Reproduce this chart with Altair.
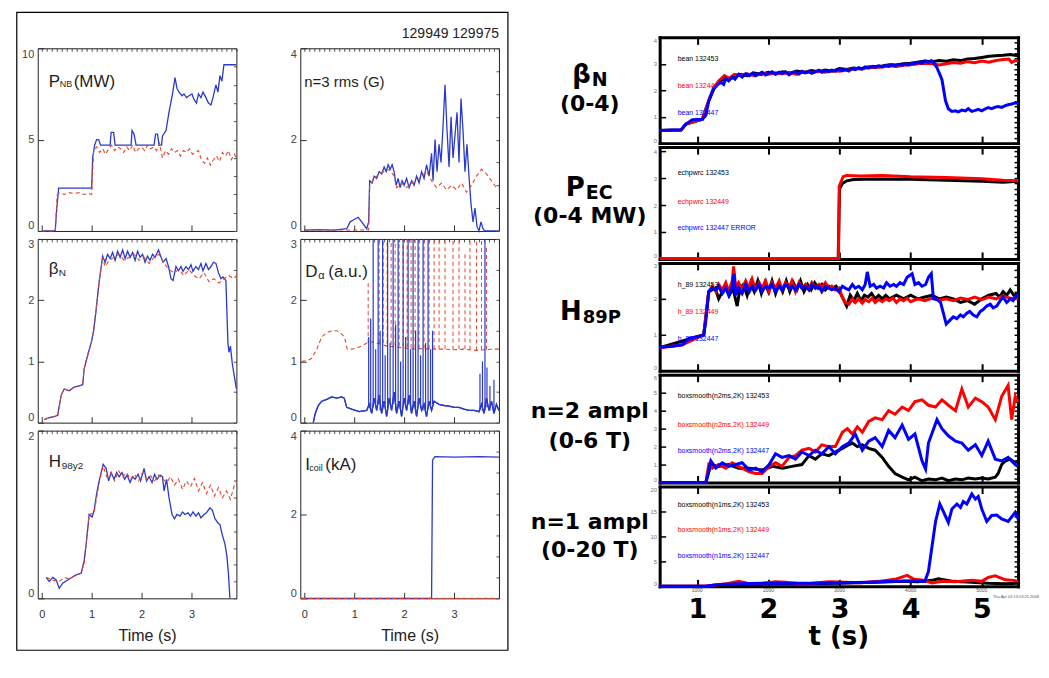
import altair as alt
import pandas as pd

LF = "Liberation Sans, Arial, sans-serif"
BF = "DejaVu Sans, Verdana, sans-serif"
LBLUE = "#2a3acb"
LRED = "#e6452c"

# ---------------- left box data (time s, value) ----------------
PNB_BLUE = [(0.0,0),(0.27,0),(0.30,1.2),(0.34,2.35),(1.0,2.35),(1.02,4.0),(1.06,4.7),(1.10,5.0),(1.14,5.0),(1.18,4.7),
            (1.37,4.7),(1.39,5.4),(1.44,5.4),(1.47,4.7),(1.79,4.7),(1.81,5.5),(1.85,5.3),(1.89,4.7),(2.25,4.7),(2.28,5.3),
            (2.32,5.3),(2.35,4.7),(2.40,4.7),(2.42,5.2),(2.49,5.5),(2.55,6.5),(2.62,7.5),(2.67,8.4),(2.71,7.8),(2.75,7.6),
            (2.81,7.4),(2.85,7.5),(2.90,7.3),(2.95,7.4),(3.01,7.5),(3.05,7.2),(3.10,7.0),(3.14,7.5),(3.19,7.3),(3.23,7.6),
            (3.29,7.3),(3.34,7.0),(3.39,6.9),(3.43,7.3),(3.49,8.0),(3.53,7.6),(3.57,8.5),(3.61,8.2),(3.65,9.1),(3.90,9.1)]
PNB_RED = [(0.0,0),(0.27,0),(0.31,2.0),(0.36,2.1),(0.45,2.0),(0.55,2.1),(0.65,2.05),(0.75,2.1),(0.85,2.0),(0.95,2.05),
           (1.0,2.0),(1.04,4.4),(1.10,4.6),(1.16,4.3),(1.22,4.5),(1.28,4.2),(1.34,4.5),(1.40,4.7),(1.46,4.4),(1.52,4.6),
           (1.58,4.5),(1.64,4.3),(1.70,4.6),(1.76,4.4),(1.82,4.7),(1.88,4.3),(1.94,4.5),(2.00,4.6),(2.06,4.4),(2.12,4.7),
           (2.18,4.5),(2.24,4.6),(2.30,4.4),(2.36,4.8),(2.42,4.0),(2.48,4.4),(2.54,4.2),(2.60,4.5),(2.66,4.3),(2.72,4.4),
           (2.78,4.1),(2.84,4.4),(2.90,4.3),(2.96,4.5),(3.02,4.2),(3.08,4.3),(3.14,4.4),(3.20,3.9),(3.26,3.7),(3.32,4.0),
           (3.38,3.6),(3.44,3.9),(3.50,4.1),(3.56,3.8),(3.62,4.3),(3.68,4.1),(3.74,4.4),(3.80,3.9),(3.86,4.2),(3.90,4.0)]

NRMS_BLUE = [(0.0,0.02),(0.3,0.03),(0.6,0.02),(0.85,0.05),(0.92,0.2),(1.0,0.25),(1.08,0.3),(1.15,0.2),(1.25,0.05),(1.29,0.2),
             (1.31,1.1),(1.36,1.05),(1.40,1.2),(1.45,1.15),(1.50,1.3),(1.55,1.25),(1.60,1.4),(1.64,1.3),(1.68,1.45),(1.72,1.35),
             (1.76,1.45),(1.80,1.3),(1.84,1.0),(1.88,1.15),(1.92,0.95),(1.96,1.1),(2.00,1.0),(2.05,1.15),(2.10,0.95),(2.15,1.1),
             (2.20,1.0),(2.25,1.2),(2.30,1.05),(2.35,1.3),(2.40,1.15),(2.45,1.45),(2.50,1.2),(2.55,1.7),(2.58,1.1),(2.62,2.0),
             (2.66,1.3),(2.70,1.9),(2.74,1.5),(2.78,2.3),(2.82,3.2),(2.86,2.2),(2.90,1.4),(2.94,2.5),(2.98,1.6),(3.02,2.1),
             (3.06,2.6),(3.10,1.5),(3.14,2.9),(3.18,2.2),(3.22,1.3),(3.26,1.9),(3.30,1.2),(3.34,0.6),(3.38,0.2),(3.42,0.5),
             (3.46,0.1),(3.50,0.0),(3.54,0.2),(3.58,0.05),(3.62,0.0),(3.90,0.0)]
NRMS_RED = [(0.0,0.02),(1.29,0.02),(1.31,1.0),(1.40,1.15),(1.50,1.25),(1.60,1.3),(1.70,1.35),(1.80,1.2),(1.85,0.95),(1.95,1.05),
            (2.05,0.95),(2.15,1.05),(2.25,1.1),(2.35,1.2),(2.45,1.3),(2.55,1.1),(2.65,0.95),(2.75,1.05),(2.85,0.9),(2.95,1.0),
            (3.05,0.9),(3.15,1.05),(3.25,0.85),(3.35,1.0),(3.45,1.2),(3.55,1.35),(3.65,1.25),(3.75,1.1),(3.85,0.95),(3.90,1.0)]

BETA_BLUE = [(0.05,0.05),(0.15,0.08),(0.25,0.1),(0.32,0.12),(0.39,0.45),(0.45,0.55),(0.55,0.52),(0.65,0.58),(0.75,0.6),(0.82,0.62),
             (0.85,0.88),(0.92,1.1),(0.99,1.3),(1.04,1.5),(1.09,1.85),(1.15,2.3),(1.22,2.72),(1.27,2.62),(1.32,2.75),(1.37,2.68),
             (1.42,2.78),(1.47,2.65),(1.52,2.8),(1.57,2.7),(1.62,2.82),(1.67,2.68),(1.72,2.8),(1.77,2.7),(1.82,2.78),(1.87,2.65),
             (1.92,2.8),(1.97,2.7),(2.02,2.75),(2.07,2.62),(2.12,2.72),(2.17,2.65),(2.22,2.75),(2.27,2.7),(2.34,2.82),(2.39,2.7),
             (2.43,2.62),(2.49,2.68),(2.54,2.55),(2.59,2.35),(2.63,2.32),(2.69,2.55),(2.74,2.48),(2.79,2.55),(2.83,2.47),(2.89,2.55),
             (2.94,2.5),(2.99,2.58),(3.03,2.47),(3.09,2.55),(3.14,2.5),(3.19,2.6),(3.23,2.48),(3.29,2.6),(3.34,2.5),(3.39,2.55),
             (3.44,2.62),(3.49,2.6),(3.54,2.45),(3.59,2.35),(3.63,2.38),(3.69,2.32),(3.73,1.3),(3.75,1.15),(3.78,1.25),(3.82,0.95),
             (3.86,0.75),(3.90,0.55)]
BETA_RED = [(0.05,0.05),(0.15,0.08),(0.25,0.1),(0.32,0.12),(0.39,0.45),(0.45,0.55),(0.55,0.52),(0.65,0.58),(0.75,0.6),(0.82,0.62),
            (0.85,0.88),(0.92,1.1),(0.99,1.3),(1.04,1.5),(1.09,1.85),(1.15,2.3),(1.22,2.7),(1.27,2.55),(1.35,2.65),(1.45,2.7),
            (1.55,2.75),(1.65,2.65),(1.75,2.7),(1.85,2.75),(1.95,2.65),(2.05,2.7),(2.15,2.6),(2.25,2.7),(2.35,2.75),(2.45,2.6),
            (2.55,2.5),(2.65,2.45),(2.75,2.5),(2.85,2.4),(2.95,2.5),(3.05,2.4),(3.15,2.35),(3.25,2.45),(3.35,2.3),(3.45,2.35),
            (3.55,2.28),(3.65,2.35),(3.75,2.4),(3.85,2.35),(3.90,2.4)]

DA_RED = [(-0.05,1.0),(0.08,1.02),(0.15,1.05),(0.25,1.2),(0.35,1.4),(0.45,1.47),(0.55,1.5),(0.65,1.5),(0.72,1.47),(0.78,1.42),
          (0.82,1.35),(0.86,1.2),(0.95,1.2),(1.05,1.22),(1.15,1.25),(1.25,1.3),(1.35,1.32),(1.45,1.3),(1.55,1.28),(1.65,1.25),
          (1.80,1.24),(2.00,1.22),(2.20,1.2),(2.40,1.21),(2.60,1.2),(2.80,1.2),(3.00,1.19),(3.20,1.2),(3.40,1.18),(3.60,1.19),
          (3.80,1.2),(3.90,1.2)]
DA_RED_SPIKE_T = [1.28,1.50,1.58,1.66,1.74,1.82,1.90,1.98,2.06,2.14,2.22,2.30,2.40,2.50,2.60,2.70,2.82,2.98,3.10,3.22,3.32,3.45,3.55,3.65]
DA_RED_SPIKE_B = [1.3,1.3,1.3,1.28,1.27,1.26,1.25,1.24,1.23,1.22,1.22,1.21,1.21,1.2,1.2,1.2,1.2,1.19,1.2,1.2,1.19,1.18,1.19,1.19]
DA_RED_SPIKE_P = [2.3,3.0,3.0,3.0,3.0,3.0,3.0,3.0,3.0,3.0,3.0,3.0,3.0,3.0,3.0,3.0,3.0,3.0,3.0,2.8,3.0,3.0,3.0,2.9]
DA_BLUE = [(0.18,0.0),(0.22,0.15),(0.28,0.28),(0.35,0.35),(0.45,0.38),(0.55,0.42),(0.65,0.4),(0.75,0.42),(0.80,0.4),(0.85,0.25),
           (0.95,0.22),(1.10,0.18),(1.25,0.2),(1.30,0.3),(1.35,0.15),(1.40,0.4),(1.45,0.2),(1.50,0.45),(1.55,0.15),(1.60,0.35),
           (1.65,0.1),(1.70,0.4),(1.75,0.2),(1.80,0.5),(1.85,0.15),(1.90,0.35),(1.95,0.1),(2.00,0.4),(2.05,0.2),(2.10,0.45),
           (2.15,0.15),(2.20,0.35),(2.25,0.1),(2.30,0.4),(2.35,0.2),(2.40,0.3),(2.45,0.1),(2.50,0.35),(2.55,0.2),(2.60,0.35),
           (2.70,0.3),(2.80,0.28),(2.90,0.27),(3.00,0.25),(3.10,0.25),(3.20,0.22),(3.30,0.2),(3.40,0.2),(3.50,0.18),(3.55,0.3),
           (3.60,0.15),(3.65,0.4),(3.70,0.2),(3.75,0.35),(3.80,0.15),(3.85,0.3),(3.90,0.2)]
DA_BLUE_SPIKE_T = [1.29,1.33,1.38,1.43,1.48,1.52,1.57,1.62,1.67,1.72,1.78,1.83,1.88,1.93,1.98,2.03,2.08,2.13,2.18,2.23,2.28,2.33,2.38,2.43,2.48,2.53,2.57,3.52,3.57,3.62,3.66,3.72,3.80]
DA_BLUE_SPIKE_B = [0.25,0.2,0.25,0.3,0.3,0.2,0.25,0.3,0.2,0.3,0.3,0.2,0.25,0.2,0.3,0.25,0.3,0.2,0.25,0.2,0.3,0.25,0.2,0.2,0.25,0.25,0.3,0.2,0.2,0.2,0.25,0.2,0.2]
DA_BLUE_SPIKE_P = [1.4,1.7,3.0,1.2,3.0,1.5,3.0,1.1,3.0,1.3,3.0,1.6,3.0,1.0,3.0,1.4,3.0,1.2,3.0,1.5,3.0,1.1,3.0,1.3,3.0,1.2,1.5,0.8,1.0,3.0,0.9,0.6,0.7]

H98_BLUE = [(0.09,0.25),(0.15,0.2),(0.22,0.25),(0.29,0.22),(0.35,0.12),(0.42,0.18),(0.55,0.23),(0.69,0.28),(0.79,0.3),(0.85,0.45),
            (0.90,0.7),(0.95,1.0),(1.01,0.97),(1.05,1.05),(1.10,1.25),(1.15,1.4),(1.23,1.6),(1.29,1.55),(1.34,1.4),(1.39,1.5),
            (1.45,1.42),(1.50,1.5),(1.55,1.45),(1.61,1.5),(1.66,1.42),(1.71,1.47),(1.77,1.38),(1.82,1.45),(1.87,1.42),(1.93,1.48),
            (1.98,1.4),(2.05,1.55),(2.10,1.4),(2.15,1.45),(2.21,1.38),(2.26,1.48),(2.31,1.42),(2.37,1.47),(2.42,1.45),(2.45,1.28),
            (2.50,1.42),(2.55,1.2),(2.61,1.0),(2.66,0.95),(2.71,1.0),(2.77,0.98),(2.82,1.03),(2.87,1.0),(2.93,1.02),(2.98,0.98),
            (3.03,1.03),(3.09,0.98),(3.14,1.02),(3.19,0.96),(3.25,1.0),(3.30,1.02),(3.37,1.08),(3.42,1.05),(3.47,0.95),(3.53,0.9),
            (3.57,0.88),(3.62,0.75),(3.67,0.65),(3.71,0.5),(3.74,0.3),(3.77,0.0)]
H98_RED = [(0.09,0.25),(0.20,0.22),(0.35,0.2),(0.45,0.25),(0.55,0.23),(0.69,0.28),(0.79,0.3),(0.85,0.42),(0.95,1.0),(1.05,1.02),
           (1.15,1.38),(1.23,1.58),(1.30,1.45),(1.38,1.5),(1.46,1.4),(1.54,1.52),(1.62,1.45),(1.70,1.5),(1.78,1.42),(1.86,1.48),
           (1.94,1.4),(2.02,1.5),(2.10,1.42),(2.18,1.46),(2.26,1.4),(2.34,1.47),(2.42,1.43),(2.50,1.38),(2.58,1.45),(2.66,1.35),
           (2.74,1.42),(2.82,1.3),(2.90,1.4),(2.98,1.33),(3.06,1.43),(3.14,1.28),(3.22,1.38),(3.30,1.25),(3.38,1.35),(3.46,1.22),
           (3.54,1.32),(3.62,1.2),(3.70,1.28),(3.78,1.18),(3.86,1.35),(3.90,1.38)]

ICOIL_BLUE = [(-0.05,0.0),(2.55,0.0),(2.57,3.3),(2.62,3.38),(3.0,3.37),(3.5,3.38),(3.90,3.37)]
ICOIL_RED = [(-0.05,0.0),(3.90,0.0)]

# ---------------- right panel data (time s, value) ----------------
BN_BLACK = [(0.47,0.48),(0.77,0.5),(0.84,0.72),(1.07,0.9),(1.16,1.6),(1.23,2.05),(1.30,2.3),(1.38,2.45),(1.45,2.4),(1.52,2.55),
            (1.60,2.6),(1.70,2.55),(1.80,2.65),(1.90,2.6),(2.00,2.68),(2.10,2.62),(2.20,2.7),(2.30,2.64),(2.40,2.72),(2.50,2.66),
            (2.60,2.74),(2.70,2.7),(2.80,2.76),(2.90,2.72),(3.00,2.82),(3.10,2.78),(3.20,2.84),(3.30,2.8),(3.40,2.88),(3.50,2.9),
            (3.60,2.92),(3.70,2.96),(3.80,2.95),(3.90,3.0),(4.00,3.02),(4.10,3.06),(4.20,3.1),(4.30,3.08),(4.40,3.12),(4.50,3.1),
            (4.60,3.15),(4.70,3.12),(4.80,3.18),(4.90,3.2),(5.00,3.24),(5.10,3.28),(5.20,3.3),(5.30,3.32),(5.40,3.35),(5.51,3.3)]
BN_RED = [(0.47,0.48),(0.77,0.5),(0.84,0.72),(1.07,0.9),(1.16,1.6),(1.23,2.1),(1.30,2.35),(1.38,2.55),(1.45,2.45),(1.52,2.6),
          (1.60,2.55),(1.70,2.62),(1.80,2.55),(1.90,2.65),(2.00,2.6),(2.10,2.66),(2.20,2.62),(2.30,2.68),(2.40,2.6),(2.50,2.7),
          (2.60,2.66),(2.70,2.72),(2.80,2.68),(2.90,2.74),(3.00,2.72),(3.10,2.76),(3.20,2.8),(3.30,2.82),(3.40,2.85),(3.50,2.86),
          (3.60,2.88),(3.70,2.92),(3.80,2.9),(3.90,2.94),(4.00,2.96),(4.10,3.0),(4.20,3.02),(4.30,3.0),(4.40,2.95),(4.50,3.0),
          (4.60,3.05),(4.70,3.02),(4.80,3.08),(4.90,3.04),(5.00,3.1),(5.10,3.06),(5.20,3.12),(5.30,3.16),(5.38,3.18),(5.42,3.05),
          (5.47,3.12),(5.51,3.1)]
BN_BLUE = [(0.47,0.48),(0.65,0.5),(0.77,0.5),(0.84,0.72),(0.93,0.88),(1.07,0.9),(1.12,1.05),(1.16,1.6),(1.23,2.05),(1.28,2.2),
           (1.33,2.3),(1.37,2.22),(1.40,2.45),(1.44,2.35),(1.49,2.5),(1.53,2.42),(1.58,2.6),(1.63,2.5),(1.68,2.62),(1.73,2.55),
           (1.78,2.65),(1.82,2.55),(1.87,2.62),(1.91,2.68),(1.96,2.58),(2.01,2.65),(2.05,2.7),(2.10,2.6),(2.15,2.68),(2.19,2.63),
           (2.24,2.7),(2.29,2.58),(2.33,2.66),(2.38,2.7),(2.43,2.62),(2.47,2.72),(2.52,2.66),(2.57,2.72),(2.61,2.64),(2.66,2.7),
           (2.71,2.76),(2.75,2.68),(2.80,2.74),(2.85,2.7),(2.89,2.76),(2.94,2.72),(2.99,2.8),(3.03,2.74),(3.08,2.79),(3.13,2.73),
           (3.17,2.82),(3.22,2.78),(3.27,2.85),(3.32,2.8),(3.36,2.88),(3.41,2.84),(3.46,2.9),(3.50,2.86),(3.55,2.92),(3.60,2.88),
           (3.64,2.94),(3.69,2.9),(3.74,2.96),(3.78,2.92),(3.83,2.98),(3.88,2.94),(3.92,3.0),(3.97,2.96),(4.02,3.02),(4.06,3.0),
           (4.11,3.06),(4.16,3.02),(4.20,3.1),(4.25,3.05),(4.29,3.12),(4.32,3.05),(4.37,2.85),(4.41,2.6),(4.44,2.4),(4.49,1.6),
           (4.53,1.3),(4.58,1.2),(4.63,1.22),(4.67,1.18),(4.72,1.25),(4.77,1.22),(4.81,1.3),(4.86,1.2),(4.91,1.24),(4.95,1.28),
           (5.00,1.22),(5.05,1.3),(5.09,1.34),(5.14,1.3),(5.19,1.36),(5.23,1.38),(5.28,1.35),(5.33,1.42),(5.37,1.45),(5.42,1.48),
           (5.47,1.52),(5.51,1.5)]

PEC_BLACK = [(0.47,0.0),(2.98,0.0),(3.00,2.6),(3.04,2.8),(3.10,2.9),(3.20,2.95),(3.50,2.97),(4.00,2.96),(4.50,2.92),(5.00,2.88),(5.30,2.85),(5.51,2.88)]
PEC_RED = [(0.47,0.02),(2.985,0.02),(2.995,2.7),(3.05,3.05),(3.10,3.1),(3.30,3.08),(3.60,3.1),(4.00,3.05),(4.50,3.02),(5.00,2.98),(5.30,2.92),(5.51,2.9)]
PEC_BLUE = []

H89_BLACK = [(0.47,0.64),(1.09,1.0),(1.16,2.2),(1.25,2.3),(1.30,2.0),(1.35,2.2),(1.40,2.35),(1.45,2.1),(1.50,2.3),(1.56,1.8),
             (1.60,2.3),(1.65,2.4),(1.70,2.1),(1.75,2.45),(1.80,2.2),(1.85,2.5),(1.90,2.15),(1.95,2.45),(2.00,2.2),(2.05,2.5),
             (2.10,2.15),(2.15,2.45),(2.20,2.2),(2.25,2.5),(2.30,2.2),(2.35,2.45),(2.40,2.25),(2.45,2.5),(2.50,2.2),(2.55,2.4),
             (2.60,2.25),(2.65,2.45),(2.70,2.3),(2.75,2.4),(2.80,2.25),(2.85,2.35),(2.90,2.3),(2.95,2.35),(3.00,2.2),(3.05,2.0),
             (3.10,1.8),(3.15,2.1),(3.20,1.95),(3.25,2.15),(3.30,1.95),(3.35,2.1),(3.40,2.05),(3.45,2.15),(3.50,2.0),(3.55,2.1),
             (3.60,2.0),(3.65,2.1),(3.70,2.0),(3.80,2.1),(3.90,2.0),(4.00,2.1),(4.10,2.0),(4.20,2.05),(4.30,2.1),(4.40,2.0),
             (4.50,2.05),(4.60,2.0),(4.70,1.9),(4.80,1.95),(4.90,1.85),(5.00,2.0),(5.10,2.1),(5.20,2.15),(5.25,2.05),(5.30,2.2),
             (5.35,2.1),(5.40,2.25),(5.45,2.1),(5.51,2.15)]
H89_RED = [(0.47,0.64),(0.79,0.72),(1.09,1.0),(1.16,2.2),(1.21,2.35),(1.26,2.2),(1.30,2.4),(1.35,2.25),(1.40,2.45),(1.44,2.2),
           (1.49,2.5),(1.51,2.9),(1.54,2.3),(1.58,2.45),(1.63,2.25),(1.68,2.5),(1.73,2.3),(1.77,2.55),(1.82,2.25),(1.87,2.45),
           (1.91,2.3),(1.96,2.5),(2.01,2.2),(2.05,2.45),(2.10,2.3),(2.15,2.5),(2.19,2.25),(2.24,2.45),(2.29,2.3),(2.33,2.5),
           (2.38,2.2),(2.43,2.45),(2.47,2.3),(2.52,2.4),(2.57,2.25),(2.61,2.45),(2.66,2.3),(2.71,2.4),(2.75,2.3),(2.80,2.45),
           (2.85,2.3),(2.89,2.35),(2.94,2.25),(2.99,2.3),(3.04,2.05),(3.08,1.9),(3.13,1.85),(3.18,2.0),(3.22,1.9),(3.27,2.0),
           (3.32,1.88),(3.36,1.98),(3.41,1.92),(3.46,2.02),(3.50,1.9),(3.55,1.98),(3.60,1.92),(3.65,2.0),(3.70,1.95),(3.75,2.02),
           (3.80,1.9),(3.85,2.0),(3.90,1.95),(3.95,2.02),(4.00,1.92),(4.10,2.0),(4.20,1.95),(4.30,2.02),(4.40,1.96),(4.50,2.0),
           (4.60,1.95),(4.70,2.02),(4.80,1.98),(4.90,2.05),(5.00,1.98),(5.10,2.05),(5.20,2.0),(5.30,2.08),(5.40,2.02),(5.51,2.0)]
H89_BLUE = [(0.47,0.65),(0.65,0.68),(0.79,0.72),(0.88,0.9),(1.02,0.95),(1.09,1.0),(1.12,1.4),(1.16,2.2),(1.21,2.3),(1.26,2.25),
            (1.30,2.35),(1.35,2.15),(1.40,2.3),(1.44,2.1),(1.49,2.35),(1.515,2.7),(1.54,2.1),(1.58,2.3),(1.63,2.15),(1.68,2.4),
            (1.73,2.2),(1.77,2.35),(1.82,2.25),(1.87,2.4),(1.91,2.2),(1.96,2.35),(2.01,2.3),(2.05,2.4),(2.10,2.2),(2.15,2.35),
            (2.19,2.25),(2.24,2.4),(2.29,2.3),(2.33,2.35),(2.38,2.25),(2.43,2.4),(2.47,2.3),(2.52,2.35),(2.57,2.25),(2.61,2.4),
            (2.66,2.3),(2.71,2.35),(2.75,2.2),(2.80,2.35),(2.85,2.3),(2.89,2.25),(2.94,2.3),(2.99,2.2),(3.04,2.35),(3.08,2.3),
            (3.13,2.25),(3.18,2.4),(3.22,2.3),(3.27,2.35),(3.32,2.25),(3.36,2.4),(3.39,2.75),(3.43,2.35),(3.48,2.4),(3.52,2.3),
            (3.57,2.35),(3.62,2.3),(3.66,2.45),(3.71,2.35),(3.76,2.4),(3.80,2.35),(3.85,2.45),(3.90,2.4),(3.95,2.6),(4.02,2.7),
            (4.06,2.4),(4.11,2.45),(4.16,2.35),(4.21,2.4),(4.25,2.6),(4.29,2.7),(4.32,2.0),(4.37,1.98),(4.42,1.9),(4.46,1.6),
            (4.50,1.3),(4.55,1.4),(4.60,1.5),(4.65,1.45),(4.70,1.55),(4.74,1.5),(4.79,1.6),(4.83,1.65),(4.88,1.55),(4.93,1.5),
            (4.98,1.65),(5.02,1.7),(5.07,1.8),(5.12,1.85),(5.16,1.75),(5.21,1.8),(5.26,1.95),(5.30,2.05),(5.35,1.9),(5.40,2.0),
            (5.44,1.95),(5.49,2.1),(5.51,2.05)]

N2_BLACK = [(0.47,0.0),(1.12,0.0),(1.19,1.0),(1.30,0.9),(1.44,1.0),(1.58,0.8),(1.73,0.8),(1.91,0.7),(2.06,0.9),(2.20,0.8),
            (2.33,0.9),(2.47,1.0),(2.57,1.5),(2.66,1.3),(2.75,1.6),(2.85,1.5),(2.94,1.7),(3.04,1.9),(3.13,2.1),(3.18,2.2),
            (3.25,2.0),(3.32,2.1),(3.41,1.9),(3.50,1.8),(3.60,1.4),(3.69,0.9),(3.78,0.5),(3.88,0.3),(3.97,0.15),(4.06,0.3),
            (4.16,0.1),(4.25,0.2),(4.35,0.15),(4.44,0.25),(4.53,0.1),(4.63,0.2),(4.72,0.15),(4.81,0.25),(4.91,0.2),(5.00,0.25),
            (5.09,0.2),(5.19,0.3),(5.23,0.5),(5.28,1.0),(5.33,1.2),(5.40,1.3),(5.47,1.1),(5.51,1.2)]
N2_RED = [(0.47,0.0),(1.12,0.0),(1.16,1.0),(1.21,0.8),(1.30,1.0),(1.40,0.8),(1.49,1.1),(1.58,0.9),(1.73,0.6),(1.82,0.5),
          (1.91,0.5),(2.01,0.9),(2.10,1.1),(2.19,0.9),(2.29,1.4),(2.38,1.5),(2.47,1.8),(2.57,1.9),(2.66,1.7),(2.75,2.1),
          (2.85,2.0),(2.94,2.0),(3.04,2.8),(3.11,3.0),(3.18,2.7),(3.25,3.1),(3.32,2.8),(3.41,3.4),(3.50,3.6),(3.60,3.5),
          (3.69,4.0),(3.78,3.8),(3.88,4.2),(3.97,4.0),(4.06,4.5),(4.16,4.6),(4.25,4.3),(4.35,4.2),(4.44,4.6),(4.53,4.3),
          (4.63,4.0),(4.72,5.2),(4.81,4.2),(4.91,4.7),(5.00,4.5),(5.09,4.2),(5.19,3.5),(5.28,4.8),(5.37,5.4),(5.42,3.5),
          (5.47,4.8),(5.51,4.5)]
N2_BLUE = [(0.47,0.0),(1.12,0.0),(1.19,1.2),(1.26,0.8),(1.35,1.1),(1.44,0.9),(1.54,1.0),(1.63,1.1),(1.73,0.7),(1.82,0.8),
           (1.91,0.6),(2.01,1.0),(2.10,1.6),(2.19,1.4),(2.29,1.5),(2.38,1.3),(2.47,1.7),(2.57,1.5),(2.66,1.8),(2.75,1.6),
           (2.85,2.0),(2.94,1.6),(3.04,2.0),(3.13,2.2),(3.22,2.7),(3.32,1.8),(3.41,2.3),(3.50,2.5),(3.60,2.0),(3.69,2.9),
           (3.78,2.5),(3.88,3.2),(3.97,2.4),(4.06,2.7),(4.16,1.2),(4.21,0.75),(4.25,2.2),(4.37,3.5),(4.44,3.0),(4.53,2.6),
           (4.63,2.3),(4.72,2.2),(4.81,1.8),(4.91,2.1),(5.00,1.5),(5.09,2.3),(5.19,1.3),(5.28,1.2),(5.37,1.4),(5.47,1.0),(5.51,0.9)]

N1_BLACK = [(0.47,0.0),(1.12,0.0),(1.50,0.3),(2.00,0.5),(2.50,0.5),(3.00,0.6),(3.50,0.8),(3.90,1.0),(4.10,0.9),(4.30,1.2),
            (4.39,1.5),(4.60,1.0),(4.86,0.8),(5.09,0.6),(5.33,0.5),(5.51,0.6)]
N1_RED = [(0.47,0.0),(1.12,0.0),(1.40,0.5),(1.58,1.0),(1.75,0.5),(1.91,0.6),(2.10,0.9),(2.24,0.8),(2.45,0.5),(2.61,0.6),
          (2.85,0.9),(3.08,0.8),(3.30,0.7),(3.55,1.0),(3.80,1.5),(3.95,2.2),(4.05,1.4),(4.16,1.3),(4.30,0.7),(4.45,1.0),
          (4.63,0.9),(4.86,1.2),(5.00,1.0),(5.09,1.8),(5.19,2.1),(5.33,1.3),(5.45,1.2),(5.51,1.0)]
N1_BLUE = [(0.47,0.0),(1.12,0.0),(1.26,0.3),(1.58,0.5),(1.91,0.6),(2.29,0.6),(2.66,0.6),(3.04,0.7),(3.41,0.8),(3.78,1.0),
           (4.06,1.1),(4.20,1.0),(4.25,3.0),(4.30,8.0),(4.35,13.0),(4.41,16.5),(4.46,15.0),(4.53,12.8),(4.58,15.5),(4.65,16.5),
           (4.70,15.8),(4.74,17.0),(4.79,16.5),(4.86,18.5),(4.91,17.5),(4.95,18.0),(5.00,15.5),(5.07,13.0),(5.14,14.2),(5.21,14.3),
           (5.28,13.5),(5.37,13.0),(5.47,14.8),(5.51,13.5)]

T_TICKS = [1, 2, 3, 4, 5]
T_SMALL = ["1000", "2000", "3000", "4000", "5000"]

# ---------------- helpers ----------------
ONE = pd.DataFrame({"k": [0]})


def df(pairs):
    return pd.DataFrame(pairs, columns=["t", "v"])


def txt(s, x, y, size, color="#1a1a1a", font=LF, align="left", weight="normal"):
    return alt.Chart(ONE).mark_text(text=s, align=align, baseline="alphabetic", font=font,
                                    fontSize=size, color=color, fontWeight=weight).encode(
        x=alt.value(x), y=alt.value(y))


# ---- left box columns: one layered view per column, panels stacked through y ranges ----
LW = 199
LH = 562
LX = alt.Scale(domain=[-0.08, 3.9], range=[0, LW], nice=False, zero=False)


def left_layers(blue, red, ymax, ymaj, ymin, top, bottom, show_x, labels, red_sp=None, blue_sp=None):
    ys = alt.Scale(domain=[0, ymax], range=[bottom, top], nice=False, zero=False)
    frame = dict(domain=True, domainColor="#222", domainWidth=1, grid=False, title=None)
    xb = dict(orient="bottom", offset=-(LH - bottom), values=[0, 1, 2, 3], tickSize={"expr": "-6"},
              tickColor="#333", labels=show_x, **frame)
    if show_x:
        xb.update(labelFont=LF, labelFontSize=11, labelColor="#333", labelPadding=16, format="d")
    yl = dict(orient="left", values=ymaj, tickSize={"expr": "-6"}, tickColor="#333",
              labelFont=LF, labelFontSize=11, labelColor="#444", labelPadding=10, labelFlush=True,
              format="d", **frame)
    xt = dict(orient="top", offset=-top, values=[i / 10 for i in range(0, 40)], tickSize={"expr": "-3"},
              tickColor="#555", labels=False, **frame)
    yr = dict(orient="right", values=ymin, tickSize={"expr": "-3"}, tickColor="#555", labels=False, **frame)
    lay = []
    lay.append(alt.Chart(df(blue)).mark_line(color=LBLUE, strokeWidth=1.3).encode(
        x=alt.X("t:Q", scale=LX, axis=alt.Axis(**xb)), y=alt.Y("v:Q", scale=ys, axis=alt.Axis(**yl))))
    if red_sp is not None:
        lay.append(alt.Chart(pd.DataFrame({"t": red_sp[0], "b": red_sp[1], "p": red_sp[2]})).mark_rule(
            color=LRED, strokeWidth=1, strokeDash=[4, 3]).encode(
            x=alt.X("t:Q", scale=LX, axis=None), y=alt.Y("b:Q", scale=ys, axis=None), y2="p:Q"))
    lay.append(alt.Chart(df(red)).mark_line(color=LRED, strokeWidth=1.1, strokeDash=[4, 3]).encode(
        x=alt.X("t:Q", scale=LX, axis=alt.Axis(**xt)), y=alt.Y("v:Q", scale=ys, axis=alt.Axis(**yr))))
    if blue_sp is not None:
        lay.append(alt.Chart(df(blue)).mark_line(color=LBLUE, strokeWidth=1.3).encode(
            x=alt.X("t:Q", scale=LX, axis=None), y=alt.Y("v:Q", scale=ys, axis=None)))
        lay.append(alt.Chart(pd.DataFrame({"t": blue_sp[0], "b": blue_sp[1], "p": blue_sp[2]})).mark_rule(
            color=LBLUE, strokeWidth=1.2).encode(
            x=alt.X("t:Q", scale=LX, axis=None), y=alt.Y("b:Q", scale=ys, axis=None), y2="p:Q"))
    for (s, x, y, fs) in labels:
        lay.append(txt(s, x, top + y, fs, color="#1e1e1e"))
    return lay


def column(layers, w, h):
    return alt.layer(*layers).resolve_scale(y="independent").resolve_axis(
        x="independent", y="independent").properties(
        width=w, height=h, view=alt.ViewBackground(strokeOpacity=0))


time_title = alt.Chart(ONE).mark_text(text="Time (s)", font=LF, fontSize=16, color="#222",
                                      baseline="alphabetic")

left_col = column(
    [alt.Chart(ONE).mark_rect(fillOpacity=0, stroke="black", strokeWidth=1.2).encode(
        x=alt.value(-21), x2=alt.value(471), y=alt.value(-25), y2=alt.value(614))]
    + left_layers(PNB_BLUE, PNB_RED, 10, [0, 5, 10], list(range(0, 11)), 11, 194, False,
                  [("P", 11, 39, 17), ("NB", 22, 39, 9), ("(MW)", 36, 39, 17)])
    + left_layers(BETA_BLUE, BETA_RED, 3, [0, 1, 2, 3], [i / 2 for i in range(0, 7)], 202, 386, False,
                  [("β", 11, 35, 17), ("N", 21, 37, 10)])
    + left_layers(H98_BLUE, H98_RED, 2, [0, 1, 2], [i / 5 for i in range(0, 11)], 394, 562, True,
                  [("H", 11, 36, 17), ("98y2", 24, 38, 10)])
    + [time_title.encode(x=alt.value(110), y=alt.value(LH + 43))],
    LW, LH)

mid_col = column(
    [txt("129949 129975", LW, 1, 14, color="#222", align="right")]
    + left_layers(NRMS_BLUE, NRMS_RED, 4, [0, 2, 4], [i / 2 for i in range(0, 9)], 11, 194, False,
                  [("n=3 rms (G)", 4, 39, 15)])
    + left_layers(DA_BLUE, DA_RED, 3, [0, 1, 2, 3], [i / 2 for i in range(0, 7)], 202, 386, False,
                  [("D", 5, 38, 17), ("α", 18, 40, 11), ("(a.u.)", 28, 38, 17)],
                  red_sp=(DA_RED_SPIKE_T, DA_RED_SPIKE_B, DA_RED_SPIKE_P),
                  blue_sp=(DA_BLUE_SPIKE_T, DA_BLUE_SPIKE_B, DA_BLUE_SPIKE_P))
    + left_layers(ICOIL_BLUE, ICOIL_RED, 4, [0, 2, 4], [i / 2 for i in range(0, 9)], 394, 562, True,
                  [("I", 5, 39, 17), ("coil", 9, 40, 9), ("(kA)", 25, 39, 17)])
    + [time_title.encode(x=alt.value(110), y=alt.value(LH + 43))],
    LW, LH)

# ---- right column: labels area + five stacked panels ----
RW = 456
RH = 550
R0 = 97
RX = alt.Scale(domain=[0.47, 5.51], range=[R0, RW], nice=False, zero=False)


def right_layers(black, red, blue, ymax, ymaj, ymin, top, bottom, legend, big, show_x=False):
    ys = alt.Scale(domain=[0, ymax], range=[bottom, top], nice=False, zero=False)
    frame = dict(domain=True, domainColor="black", domainWidth=3, domainCap="square", grid=False, title=None)
    xb = dict(orient="bottom", offset=-(RH - bottom), values=T_TICKS, tickSize={"expr": "-7"}, tickWidth=2,
              tickColor="black", labels=show_x, **frame)
    if show_x:
        xb.update(labelFont=BF, labelFontSize=27, labelFontWeight="bold", labelColor="black", format="d",
                  labelPadding=17)
    yl = dict(orient="left", offset=-R0, values=ymaj, tickSize={"expr": "-6"}, tickWidth=1.5,
              tickColor="black", labelFont=LF, labelFontSize=6, labelColor="#777", labelPadding=9,
              labelFlush=True, format="d", **frame)
    xt = dict(orient="top", offset=-top, values=T_TICKS, tickSize={"expr": "-7"}, tickWidth=2,
              tickColor="black", labels=False, **frame)
    yr = dict(orient="right", values=ymin, tickSize={"expr": "-4"}, tickWidth=1.5, tickColor="black",
              labels=False, **frame)
    lay = [
        alt.Chart(df(black)).mark_line(color="black", strokeWidth=3).encode(
            x=alt.X("t:Q", scale=RX, axis=alt.Axis(**xb)), y=alt.Y("v:Q", scale=ys, axis=alt.Axis(**yl))),
        alt.Chart(df(red)).mark_line(color="#ff0000", strokeWidth=3).encode(
            x=alt.X("t:Q", scale=RX, axis=alt.Axis(**xt)), y=alt.Y("v:Q", scale=ys, axis=alt.Axis(**yr))),
    ]
    if len(blue) > 0:
        lay.append(alt.Chart(df(blue)).mark_line(color="#0000ff", strokeWidth=3).encode(
            x=alt.X("t:Q", scale=RX, axis=None), y=alt.Y("v:Q", scale=ys, axis=None)))
    for (s, c, y) in legend:
        lay.append(txt(s, R0 + 18, top + y, 7, color=c))
    for (s, x, y, fs, al) in big:
        lay.append(txt(s, R0 + x, top + y, fs, color="black", font=BF, align=al, weight="bold"))
    return lay


right_col = column(
    right_layers(BN_BLACK, BN_RED, BN_BLUE, 4, [0, 1, 2, 3, 4], [i / 5 for i in range(0, 21)], 0, 106,
                 [("bean 132453", "black", 24), ("bean 132449", "#ff0000", 51), ("bean 132447", "#0000ff", 78)],
                 [("β", -69, 46, 26, "right"), ("N", -68, 49, 19, "left"), ("(0-4)", -70, 74, 22, "center")])
    + right_layers(PEC_BLACK, PEC_RED, PEC_BLUE, 4.15, [0, 1, 2, 3, 4], [i / 5 for i in range(0, 21)], 110, 222,
                   [("echpwrc 132453", "black", 28), ("echpwrc 132449", "#ff0000", 57),
                    ("echpwrc 132447 ERROR", "#0000ff", 83)],
                   [("P", -75, 49, 26, "right"), ("EC", -74, 52, 19, "left"), ("(0-4 MW)", -70, 76, 22, "center")])
    + right_layers(H89_BLACK, H89_RED, H89_BLUE, 3, [0, 1, 2, 3], [i / 5 for i in range(0, 16)], 226, 334,
                   [("h_89 132453", "black", 24), ("h_89 132449", "#ff0000", 51), ("h_89 132447", "#0000ff", 78)],
                   [("H", -78, 57, 26, "right"), ("89P", -77, 60, 18, "left")])
    + right_layers(N2_BLACK, N2_RED, N2_BLUE, 6, [0, 1, 2, 3, 4, 5, 6], [i / 4 for i in range(0, 25)], 338, 446,
                   [("boxsmooth(n2ms,2K) 132453", "black", 23), ("boxsmooth(n2ms,2K) 132449", "#ff0000", 52),
                    ("boxsmooth(n2ms,2K) 132447", "#0000ff", 78)],
                   [("n=2 ampl", -70, 43, 22, "center"), ("(0-6 T)", -70, 73, 22, "center")])
    + right_layers(N1_BLACK, N1_RED, N1_BLUE, 20, [0, 5, 10, 15, 20], list(range(0, 21)), 450, 550,
                   [("boxsmooth(n1ms,2K) 132453", "black", 21), ("boxsmooth(n1ms,2K) 132449", "#ff0000", 46),
                    ("boxsmooth(n1ms,2K) 132447", "#0000ff", 72)],
                   [("n=1 ampl", -70, 43, 22, "center"), ("(0-20 T)", -70, 71, 22, "center")], show_x=True)
    + [alt.Chart(pd.DataFrame({"t": T_TICKS, "lab": T_SMALL})).mark_text(
        fontSize=5, font=LF, color="#555").encode(
        x=alt.X("t:Q", scale=RX, axis=None), y=alt.value(RH + 4), text="lab:N"),
       txt("Thu Apr 03 13:13:20 2008", 477, RH + 12, 4, color="#555", align="right"),
       alt.Chart(ONE).mark_text(text="t (s)", font=BF, fontSize=26, fontWeight="bold", color="black",
                                align="center", baseline="alphabetic").encode(
           x=alt.value((R0 + RW) / 2), y=alt.value(RH + 59))],
    RW, RH)

chart = alt.hconcat(left_col, mid_col, right_col, spacing=64, bounds="flush").properties(
    padding={"left": 7.8, "top": 2.8, "right": 2, "bottom": 2},
    background="white")

chart.save("out.html", embed_options={"renderer": "svg", "actions": False})
